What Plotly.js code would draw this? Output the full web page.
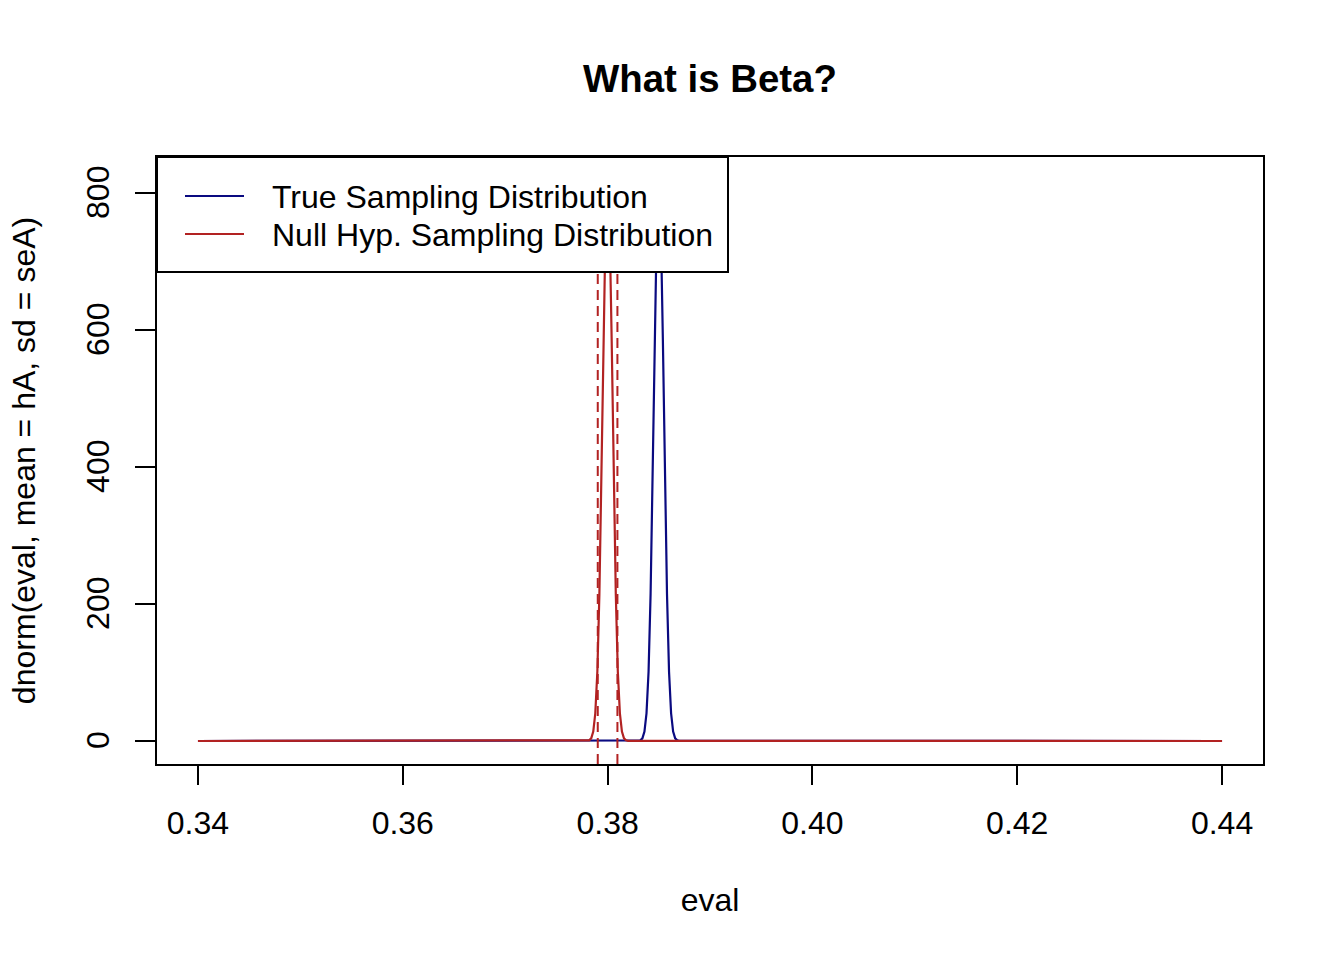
<!DOCTYPE html>
<html>
<head>
<meta charset="utf-8">
<script src="https://cdn.plot.ly/plotly-3.0.1.min.js"></script>
<style>html,body{margin:0;padding:0;background:#fff;}</style>
</head>
<body>
<div id="chart" style="width:1344px;height:960px;"></div>
<script>
// Data
var trueX = [0.34, 0.3830, 0.3832, 0.3834, 0.3836, 0.3838, 0.3840, 0.3842, 0.3844, 0.3846, 0.3848, 0.3850,
             0.3852, 0.3854, 0.3856, 0.3858, 0.3860, 0.3862, 0.3864, 0.3866, 0.3868, 0.3870, 0.44];
var trueY = [0, 0.2, 0.95, 3.9, 13.8, 40.5, 101, 215, 385, 584, 749, 814,
             749, 584, 385, 215, 101, 40.5, 13.8, 3.9, 0.95, 0.2, 0];
var nullX = [0.34, 0.3780, 0.3782, 0.3784, 0.3786, 0.3788, 0.3790, 0.3792, 0.3794, 0.3796, 0.3798, 0.3800,
             0.3802, 0.3804, 0.3806, 0.3808, 0.3810, 0.3812, 0.3814, 0.3816, 0.3818, 0.3820, 0.44];
var nullY = [0, 0.2, 0.95, 3.9, 13.8, 40.5, 101, 215, 385, 584, 749, 814,
             749, 584, 385, 215, 101, 40.5, 13.8, 3.9, 0.95, 0.2, 0];
var critVals = [0.37904, 0.38096];
var xTicks = [0.34, 0.36, 0.38, 0.40, 0.42, 0.44];
var xTickText = ["0.34", "0.36", "0.38", "0.40", "0.42", "0.44"];
var yTicks = [0, 200, 400, 600, 800];
var seriesNames = ["True Sampling Distribution", "Null Hyp. Sampling Distribution"];

var BLUE = "#0a0a80";
var RED = "#b22222";
var FONT = "Liberation Sans, Arial, Helvetica, sans-serif";

var traces = [
  {x: trueX, y: trueY, type: "scatter", mode: "lines", line: {color: BLUE, width: 2.2}, name: seriesNames[0], showlegend: false, hoverinfo: "skip"},
  {x: nullX, y: nullY, type: "scatter", mode: "lines", line: {color: RED, width: 2.2}, name: seriesNames[1], showlegend: false, hoverinfo: "skip"}
];

// plot area geometry in paper units
var L = 157, R = 1263, T = 157, B = 764;
function px2paperX(p){ return (p - L) / (R - L); }
function px2paperY(p){ return (B - p) / (B - T); }

var shapes = [];
critVals.forEach(function(v){
  shapes.push({type: "line", xref: "x", yref: "paper", x0: v, x1: v, y0: 0, y1: 1,
               line: {color: RED, width: 2, dash: "10px,6px"}, layer: "above"});
});
// legend box
shapes.push({type: "rect", xref: "paper", yref: "paper", x0: 0, x1: px2paperX(728), y0: px2paperY(272), y1: 1,
             fillcolor: "#ffffff", line: {color: "#000", width: 2}, layer: "above"});
var legendY = [196, 234];
var legendCol = [BLUE, RED];
var annotations = [];
for (var i = 0; i < 2; i++) {
  shapes.push({type: "line", xref: "paper", yref: "paper", x0: px2paperX(185), x1: px2paperX(244),
               y0: px2paperY(legendY[i]), y1: px2paperY(legendY[i]), line: {color: legendCol[i], width: 2}, layer: "above"});
  annotations.push({xref: "paper", yref: "paper", x: px2paperX(270), y: px2paperY(legendY[i] + 1),
                    xanchor: "left", yanchor: "middle", showarrow: false, text: seriesNames[i],
                    font: {family: FONT, size: 32, color: "#000"}});
}

var layout = {
  width: 1344, height: 960,
  margin: {l: L, r: 1344 - R, t: T, b: 960 - B, pad: 0},
  paper_bgcolor: "#fff", plot_bgcolor: "#fff",
  font: {family: FONT, size: 32, color: "#000"},
  title: {text: "<b>What is Beta?</b>", x: 0.5, xref: "paper", xanchor: "center",
          y: 1 - 79 / 960, yref: "container", yanchor: "middle",
          font: {family: FONT, size: 38.4, color: "#000"}},
  xaxis: {range: [0.336, 0.444], tickvals: xTicks, ticktext: xTickText, ticks: "outside", ticklen: 19, tickwidth: 2,
          tickcolor: "#000", showline: true, mirror: true, linewidth: 2, linecolor: "#000",
          showgrid: false, zeroline: false, tickfont: {family: FONT, size: 32}, ticklabelstandoff: 11,
          title: {text: "eval", font: {family: FONT, size: 32}, standoff: 48}, automargin: false},
  yaxis: {range: [-33.6, 852.6], tickvals: yTicks, ticks: "outside", ticklen: 20, tickwidth: 2,
          tickcolor: "#000", showline: true, mirror: true, linewidth: 2, linecolor: "#000",
          showgrid: false, zeroline: false, tickangle: -90, tickfont: {family: FONT, size: 32},
          ticklabelstandoff: 13, ticklabelshift: 4,
          title: {text: "dnorm(eval, mean = hA, sd = seA)", font: {family: FONT, size: 32}, standoff: 35}, automargin: false},
  shapes: shapes,
  annotations: annotations,
  showlegend: false
};

Plotly.newPlot("chart", traces, layout, {displayModeBar: false, staticPlot: true});
</script>
</body>
</html>
